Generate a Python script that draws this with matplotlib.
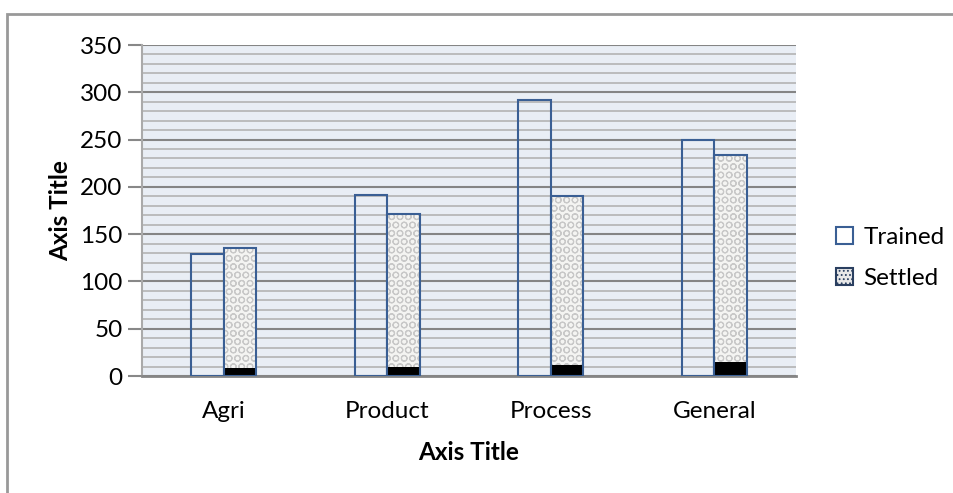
import numpy as np
import matplotlib.pyplot as plt
from matplotlib.patches import Rectangle, Patch
from matplotlib.ticker import MultipleLocator

plt.rcParams['font.family'] = ['Lato', 'DejaVu Sans']
plt.rcParams['hatch.linewidth'] = 0.8

categories = ['Agri', 'Product', 'Process', 'General']
trained = [129, 191, 292, 250]
settled = [135, 171, 190, 234]
settled_base = [8, 10, 12, 15]

fig = plt.figure(figsize=(9.54, 4.93), dpi=100)
ax = fig.add_axes([0.1488, 0.2373, 0.6856, 0.6714])
ax.set_facecolor('#e9eef5')

x = np.arange(len(categories))
w = 0.2
edge = '#3a5f94'

ax.bar(x - w / 2, trained, w, facecolor='none', edgecolor=edge, linewidth=1.5, zorder=3)
ax.bar(x + w / 2, settled, w, facecolor='#f4f4f2', edgecolor='#c8c8c8', hatch='OO', linewidth=0, zorder=3)
ax.bar(x + w / 2, settled_base, w, facecolor='black', edgecolor='black', linewidth=0, zorder=4)
ax.bar(x + w / 2, settled, w, facecolor='none', edgecolor=edge, linewidth=1.5, zorder=5)

ax.set_xlim(-0.5, 3.5)
ax.set_ylim(0, 350)
ax.yaxis.set_major_locator(MultipleLocator(50))
ax.yaxis.set_minor_locator(MultipleLocator(10))
ax.grid(which='major', axis='y', color='#858585', linewidth=1.5, zorder=1)
ax.grid(which='minor', axis='y', color='#b4b4b4', linewidth=1.2, zorder=1)
ax.set_axisbelow(True)

ax.set_xticks(x)
ax.set_xticklabels(categories)
ax.tick_params(axis='x', length=0, labelsize=17.5, pad=18)
ax.tick_params(axis='y', which='major', length=10, width=1.5, color='#888888', labelsize=17.5, pad=4)
ax.tick_params(axis='y', which='minor', length=0)

for s in ['top', 'right']:
    ax.spines[s].set_visible(False)
ax.spines['left'].set_color('#aaaaaa')
ax.spines['left'].set_linewidth(1.5)
ax.spines['bottom'].set_color('#858585')
ax.spines['bottom'].set_linewidth(2)

ax.set_xlabel('Axis Title', fontsize=17.5, fontweight='bold', labelpad=14)
ax.set_ylabel('Axis Title', fontsize=17.5, fontweight='bold', labelpad=6)

handles = [Patch(facecolor='white', edgecolor=edge, linewidth=1.5),
           Patch(facecolor='#e8e8e8', edgecolor='#2a3f60', hatch='....', linewidth=1.5)]
fig.legend(handles, ['Trained', 'Settled'], loc='center left', bbox_to_anchor=(0.876, 0.4767),
           frameon=False, fontsize=17.5, handlelength=0.7, handleheight=0.7,
           handletextpad=0.45, labelspacing=0.8, borderpad=0, borderaxespad=0)

fig.patches.append(Rectangle((7 / 954, -0.1), 1.2, (493 - 14) / 493 + 0.1,
                             transform=fig.transFigure, fill=False,
                             edgecolor='#999999', linewidth=2, clip_on=False))

fig.savefig('out.png', dpi=100)
